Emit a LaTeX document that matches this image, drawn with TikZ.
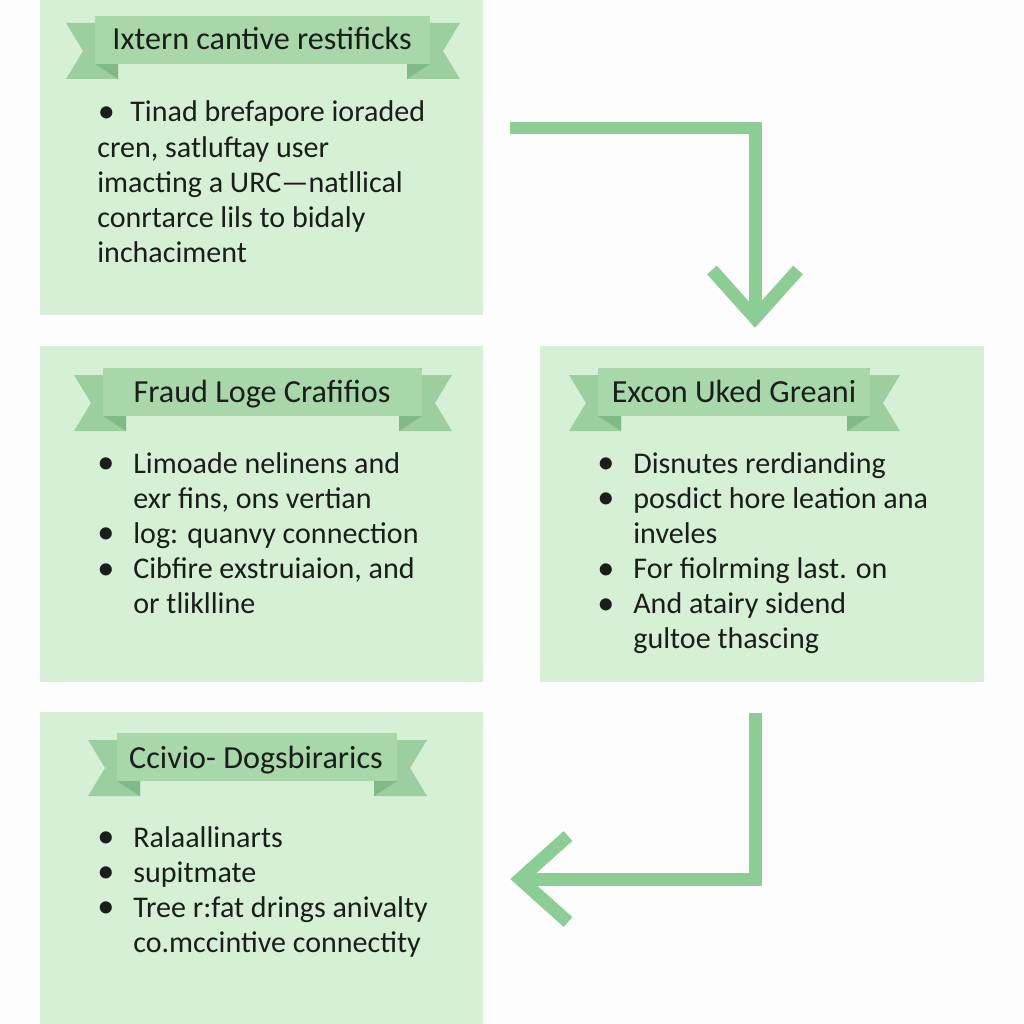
\documentclass[tikz,border=0pt]{standalone}
\usepackage{fontspec}
\setmainfont{Carlito}
\usetikzlibrary{calc}
\definecolor{boxfill}{RGB}{214,240,214}
\definecolor{band}{RGB}{168,215,170}
\definecolor{tailc}{RGB}{156,207,160}
\definecolor{foldc}{RGB}{128,186,134}
\definecolor{arrowc}{RGB}{138,206,148}
\definecolor{ink}{RGB}{25,30,25}
\definecolor{bgc}{RGB}{252,253,252}
\newcommand\myribbon[3]{%
  \fill[tailc] ({#1-29},{#3+7}) -- ({#1+23},{#3+7}) -- ({#1+23},{#3+63}) -- ({#1-29},{#3+63}) -- ({#1-12},{#3+35}) -- cycle;
  \fill[tailc] ({#2+30},{#3+7}) -- ({#2-23},{#3+7}) -- ({#2-23},{#3+63}) -- ({#2+30},{#3+63}) -- ({#2+13},{#3+35}) -- cycle;
  \fill[foldc] (#1,{#3+48}) -- ({#1+23},{#3+48}) -- ({#1+23},{#3+63}) -- cycle;
  \fill[foldc] (#2,{#3+48}) -- ({#2-23},{#3+48}) -- ({#2-23},{#3+63}) -- cycle;
  \fill[band] (#1,#3) rectangle (#2,{#3+48});
}
\newcommand\bigbul{\raisebox{-0.4pt}{\fontsize{19.5}{20}\selectfont\textbullet}}
\newcommand\bul{\makebox[0.7cm][l]{\hspace*{-0.02cm}\bigbul}}
\newcommand\ind{\hspace*{0.7cm}}
\begin{document}
\begin{tikzpicture}[x=0.02cm,y=-0.02cm,
  box/.style={fill=boxfill, draw=none, anchor=north west, inner sep=0pt},
  ttl/.style={anchor=base, inner sep=0pt, text=ink, font=\fontsize{18.3}{20}\selectfont},
  body/.style={anchor=base west, inner sep=0pt, text=ink, font=\fontsize{17.1}{20}\selectfont},
  arrowline/.style={draw=arrowc, line width=0.26cm, line join=miter}]
\useasboundingbox (0,0) rectangle (1024,1024);
\fill[bgc] (0,0) rectangle (1024,1024);
% boxes
\node[box, minimum width=8.86cm, minimum height=6.30cm] (b1) at (40,0) {};
\node[box, minimum width=8.86cm, minimum height=6.72cm] (b2) at (40,346) {};
\node[box, minimum width=8.88cm, minimum height=6.72cm] (b3) at (540,346) {};
\node[box, minimum width=8.86cm, minimum height=6.24cm] (b4) at (40,712) {};
% ribbons
\myribbon{95}{430}{16}
\myribbon{103}{422}{368}
\myribbon{598}{870}{368}
\myribbon{117}{397}{733}
% titles
\node[ttl] (t1) at (262,50) {Ixtern cantive restificks};
\node[ttl] (t2) at (262,402) {Fraud Loge Crafifios};
\node[ttl] (t3) at (734,402) {Excon Uked Greani};
\node[ttl] (t4) at (256,768) {Ccivio- Dogsbirarics};
% bodies
\node[body] (x1) at (97,122) {\begin{tabular}[t]{@{}l@{}}
\makebox[0.66cm][l]{\hspace{0.01cm}\bigbul}Tinad brefapore ioraded\\
cren, satluftay user\\
imacting a URC—natllical\\
conrtarce lils to bidaly\\
inchaciment
\end{tabular}};
\node[body] (x2) at (98,473) {\begin{tabular}[t]{@{}l@{}}
\bul Limoade nelinens and\\
\ind exr fins, ons vertian\\
\bul log: quanvy connection\\
\bul Cibfire exstruiaion, and\\
\ind or tliklline
\end{tabular}};
\node[body] (x3) at (598,473) {\begin{tabular}[t]{@{}l@{}}
\bul Disnutes rerdianding\\
\bul posdict hore leation ana\\
\ind inveles\\
\bul For fiolrming last. on\\
\bul And atairy sidend\\
\ind gultoe thascing
\end{tabular}};
\node[body] (x4) at (98,847) {\begin{tabular}[t]{@{}l@{}}
\bul Ralaallinarts\\
\bul supitmate\\
\bul Tree r:fat drings anivalty\\
\ind co.mccintive connectity
\end{tabular}};
% arrows
\coordinate (a1s) at (510,128);
\coordinate (a1e) at (755,318);
\draw[arrowline] (a1s) -| ($(a1e)+(0,-4)$);
\draw[arrowline] ($(a1e)+(-43,-48)$) -- (a1e) -- ($(a1e)+(43,-48)$);
\coordinate (a2s) at (755,713);
\coordinate (a2e) at (520,879);
\draw[arrowline] (a2s) |- ($(a2e)+(4,0)$);
\draw[arrowline] ($(a2e)+(48,-43)$) -- (a2e) -- ($(a2e)+(48,43)$);
\end{tikzpicture}
\end{document}
